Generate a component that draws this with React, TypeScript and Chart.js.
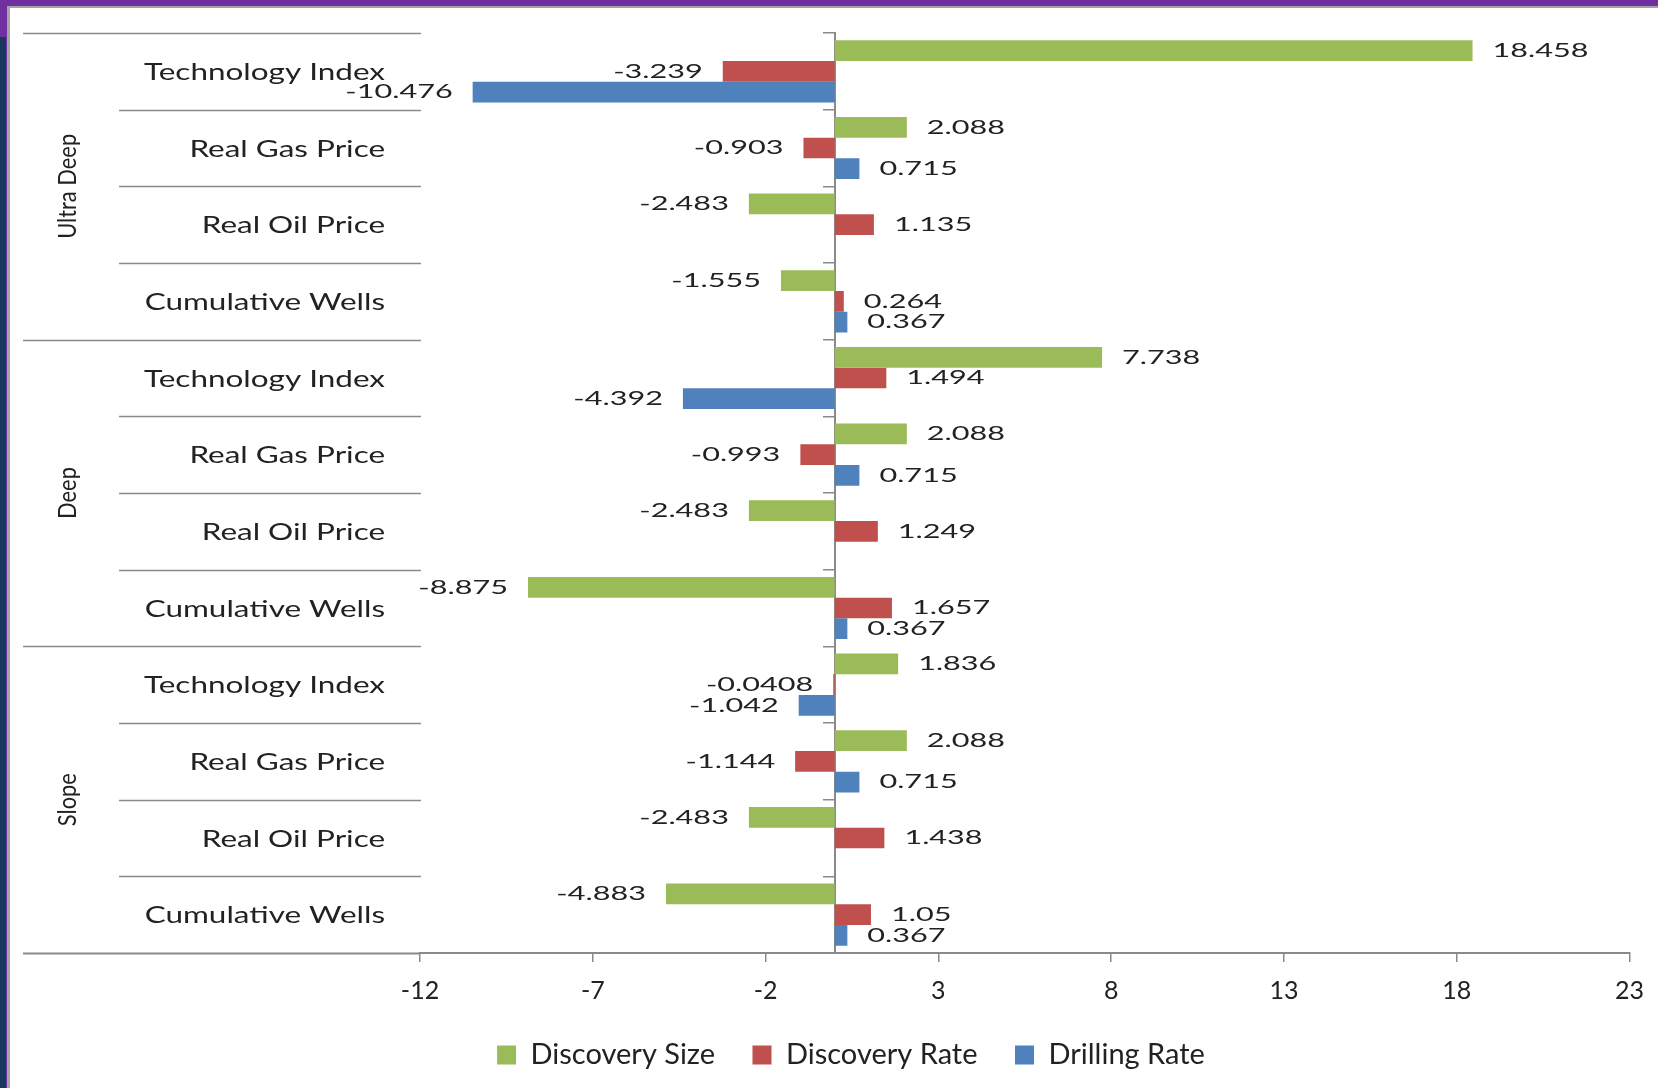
import React, { useEffect, useRef } from 'react';
import { Chart, registerables } from 'chart.js';

Chart.register(...registerables);

// ---------------- data ----------------
const groups = ['Ultra Deep', 'Deep', 'Slope'];
const factors = ['Technology Index', 'Real Gas Price', 'Real Oil Price', 'Cumulative Wells'];
const categories = groups.flatMap((g) => factors.map((f) => `${g} | ${f}`));

const seriesNames = ['Discovery Size', 'Discovery Rate', 'Drilling Rate'];
const discoverySize = [18.458, 2.088, -2.483, -1.555, 7.738, 2.088, -2.483, -8.875, 1.836, 2.088, -2.483, -4.883];
const discoveryRate = [-3.239, -0.903, 1.135, 0.264, 1.494, -0.993, 1.249, 1.657, -0.0408, -1.144, 1.438, 1.05];
const drillingRate = [-10.476, 0.715, null, 0.367, -4.392, 0.715, null, 0.367, -1.042, 0.715, null, 0.367];

const xMin = -12;
const xMax = 23;
const xStep = 5;

// ---------------- style ----------------
const COLORS = ['#9BBB59', '#C0504D', '#4F81BD'];
const GREY = '#8a8a8a';
const TEXT = '#222222';
const FONT = 'Lato, "Open Sans", sans-serif';

function drawStretched(
  ctx: CanvasRenderingContext2D,
  text: string,
  x: number,
  y: number,
  font: string,
  sx: number,
  align: CanvasTextAlign,
  rotate = 0
) {
  ctx.save();
  ctx.font = font;
  ctx.fillStyle = TEXT;
  ctx.textBaseline = 'middle';
  ctx.textAlign = align;
  ctx.translate(x, y);
  if (rotate) ctx.rotate(rotate);
  ctx.scale(sx, 1);
  ctx.fillText(text, 0, 0);
  ctx.restore();
}

function stretchFor(ctx: CanvasRenderingContext2D, font: string, ref: string, target: number) {
  ctx.save();
  ctx.font = font;
  const w = ctx.measureText(ref).width;
  ctx.restore();
  return w > 0 ? target / w : 1;
}

const DATA_FONT = `19.5px ${FONT}`;
const CAT_FONT = `23.3px ${FONT}`;
const GROUP_FONT = `24.5px ${FONT}`;

const labelPlugin = {
  id: 'excelLabels',
  afterDatasetsDraw(chart: any) {
    const ctx: CanvasRenderingContext2D = chart.ctx;
    const sx = stretchFor(ctx, DATA_FONT, '18.458', 96);
    chart.data.datasets.forEach((ds: any, di: number) => {
      const meta = chart.getDatasetMeta(di);
      meta.data.forEach((el: any, i: number) => {
        const v = ds.data[i];
        if (v === null || v === undefined) return;
        const { x, y } = el.getProps(['x', 'y'], true);
        const pos = v >= 0;
        drawStretched(ctx, String(v), pos ? x + 20 : x - 20, y, DATA_FONT, sx, pos ? 'left' : 'right');
      });
    });
  },
  afterDraw(chart: any) {
    const ctx: CanvasRenderingContext2D = chart.ctx;
    const ys = chart.scales.y;
    const area = chart.chartArea;
    const n = categories.length;
    const per = factors.length;

    // separator lines in the label area
    ctx.save();
    ctx.strokeStyle = GREY;
    for (let k = 0; k <= n; k++) {
      const yy = Math.round(ys.getPixelForValue(k - 0.5)) + 0.5;
      const isGroup = k % per === 0;
      const x0 = isGroup ? 23 : 119;
      const x1 = k === n ? area.left : area.left + 1;
      ctx.beginPath();
      ctx.moveTo(x0, yy);
      ctx.lineTo(x1, yy);
      ctx.lineWidth = k === n ? 2 : 1.6;
      ctx.stroke();
    }
    ctx.restore();

    // factor labels
    const csx = stretchFor(ctx, CAT_FONT, 'Technology Index', 241);
    categories.forEach((_, i) => {
      const yy = ys.getPixelForValue(i);
      drawStretched(ctx, factors[i % per], 385, yy + 1, CAT_FONT, csx, 'right');
    });

    // group labels (rotated)
    const gsx = stretchFor(ctx, GROUP_FONT, 'Ultra Deep', 105);
    groups.forEach((g, gi) => {
      const yTop = ys.getPixelForValue(gi * per - 0.5);
      const yBot = ys.getPixelForValue(gi * per + per - 0.5);
      drawStretched(ctx, g, 68, (yTop + yBot) / 2, GROUP_FONT, gsx, 'center', -Math.PI / 2);
    });
  },
};

export default function App() {
  const ref = useRef<HTMLCanvasElement>(null);

  useEffect(() => {
    const canvas = ref.current;
    if (!canvas) return;
    const data = [discoverySize, discoveryRate, drillingRate];
    const chart = new Chart(canvas, {
      type: 'bar',
      data: {
        labels: categories,
        datasets: seriesNames.map((name, i) => ({
          label: name,
          data: data[i],
          backgroundColor: COLORS[i],
          borderWidth: 0,
          categoryPercentage: 0.81,
          barPercentage: 1,
          xAxisID: 'x',
          yAxisID: 'y',
        })),
      },
      options: {
        indexAxis: 'y',
        responsive: false,
        animation: false,
        devicePixelRatio: 1,
        layout: { padding: { left: 72.5, right: 28.5, top: 33, bottom: 8.5 } },
        plugins: {
          legend: {
            display: true,
            position: 'bottom',
            labels: {
              boxWidth: 19,
              boxHeight: 19,
              padding: 37.5,
              color: TEXT,
              font: { family: FONT, size: 29 },
            },
          },
          tooltip: { enabled: false },
        },
        scales: {
          x: {
            type: 'linear',
            position: 'bottom',
            min: xMin,
            max: xMax,
            ticks: {
              stepSize: xStep,
              autoSkip: false,
              maxRotation: 0,
              padding: 14,
              color: TEXT,
              font: { family: FONT, size: 25, lineHeight: 1.2 },
            },
            grid: {
              display: true,
              drawOnChartArea: false,
              drawTicks: true,
              tickLength: 9,
              color: GREY,
              lineWidth: 1.5,
            },
            border: { display: true, color: GREY, width: 2 },
            afterFit: (s: any) => {
              s.height = 50;
            },
          },
          y: {
            type: 'category',
            position: { x: 0 } as any,
            offset: true,
            ticks: { display: false },
            grid: {
              display: true,
              drawOnChartArea: false,
              drawTicks: true,
              tickLength: 11,
              offset: true,
              color: GREY,
              lineWidth: 1.5,
            },
            border: { display: true, color: GREY, width: 2 },
          },
          yLeft: {
            type: 'category',
            position: 'left',
            offset: true,
            ticks: { display: false },
            grid: { display: false },
            border: { display: false },
            afterFit: (s: any) => {
              s.width = 347.5;
            },
          },
        },
      } as any,
      plugins: [labelPlugin],
    });
    return () => chart.destroy();
  }, []);

  const box = (s: React.CSSProperties) => <div style={{ position: 'absolute', ...s }} />;

  return (
    <div style={{ position: 'relative', width: 1658, height: 1088, background: '#ffffff', overflow: 'hidden' }}>
      <style>{'html,body{margin:0;padding:0;background:#fff;}'}</style>
      <canvas
        ref={ref}
        width={1658}
        height={1088}
        style={{ position: 'absolute', left: 0, top: 0, width: 1658, height: 1088 }}
      />
      {box({ left: 0, top: 0, width: 1658, height: 6, background: '#7030A0' })}
      {box({ left: 7, top: 6, width: 1651, height: 2, background: '#a3a3a3' })}
      {box({ left: 0, top: 0, width: 7, height: 37, background: '#7030A0' })}
      {box({ left: 0, top: 37, width: 6, height: 1051, background: '#17375E' })}
      {box({ left: 6, top: 37, width: 1.4, height: 1051, background: '#7030A0' })}
      {box({ left: 7.4, top: 6, width: 2.6, height: 1082, background: '#a6a6a6' })}
    </div>
  );
}
